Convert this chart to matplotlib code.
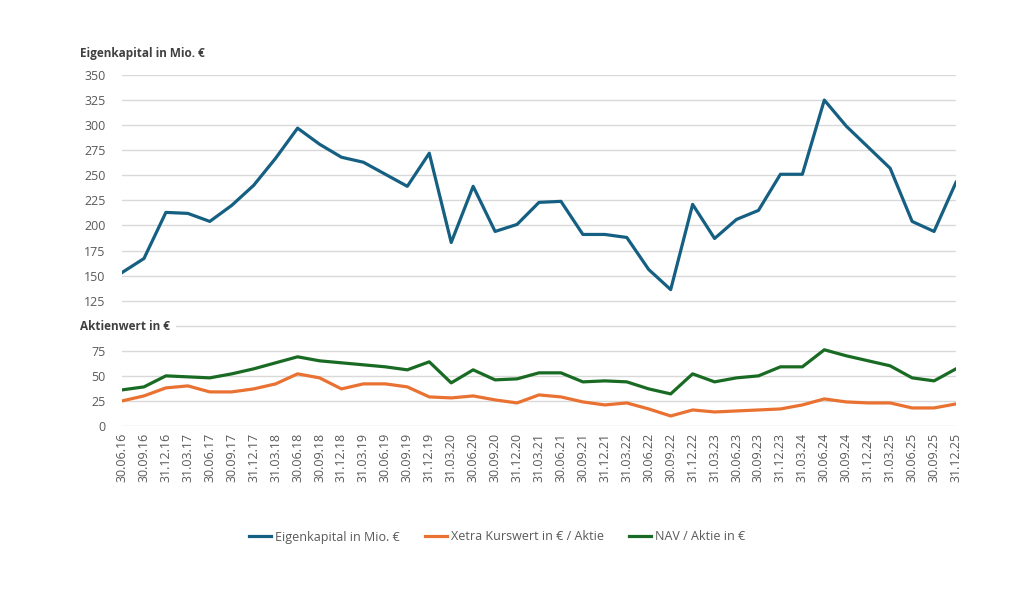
import matplotlib.pyplot as plt
import numpy as np

plt.rcParams['font.family'] = ['Open Sans', 'DejaVu Sans']

dates = ['30.06.16', '30.09.16', '31.12.16', '31.03.17', '30.06.17', '30.09.17',
         '31.12.17', '31.03.18', '30.06.18', '30.09.18', '31.12.18', '31.03.19',
         '30.06.19', '30.09.19', '31.12.19', '31.03.20', '30.06.20', '30.09.20',
         '31.12.20', '31.03.21', '30.06.21', '30.09.21', '31.12.21', '31.03.22',
         '30.06.22', '30.09.22', '31.12.22', '31.03.23', '30.06.23', '30.09.23',
         '31.12.23', '31.03.24', '30.06.24', '30.09.24', '31.12.24', '31.03.25',
         '30.06.25', '30.09.25', '31.12.25']

eigenkapital = [153, 167, 213, 212, 204, 220, 240, 267, 297, 281, 268, 263,
                251, 239, 272, 183, 239, 194, 201, 223, 224, 191, 191, 188,
                156, 136, 221, 187, 206, 215, 251, 251, 325, 299, 278, 257,
                204, 194, 243]

xetra = [25, 30, 38, 40, 34, 34, 37, 42, 52, 48, 37, 42,
         42, 39, 29, 28, 30, 26, 23, 31, 29, 24, 21, 23,
         17, 10, 16, 14, 15, 16, 17, 21, 27, 24, 23, 23,
         18, 18, 22]

nav = [36, 39, 50, 49, 48, 52, 57, 63, 69, 65, 63, 61,
       59, 56, 64, 43, 56, 46, 47, 53, 53, 44, 45, 44,
       37, 32, 52, 44, 48, 50, 59, 59, 76, 70, 65, 60,
       48, 45, 57]

blue = '#156082'
orange = '#E97132'
green = '#196B24'
grey = '#595959'

fig = plt.figure(figsize=(10.30, 5.98), dpi=100)
ax = fig.add_axes([122 / 1030, 1 - 426 / 598, (956 - 122) / 1030, (426 - 75) / 598])

x = np.arange(len(dates))
ax.plot(x, eigenkapital, color=blue, lw=2.3, label='Eigenkapital in Mio. €')
ax.plot(x, xetra, color=orange, lw=2.3, label='Xetra Kurswert in € / Aktie')
ax.plot(x, nav, color=green, lw=2.3, label='NAV / Aktie in €')

ax.set_xlim(0, len(dates) - 1)
ax.set_ylim(0, 350)
ticks = np.arange(0, 351, 25)
ax.set_yticks(ticks)
ax.set_yticklabels(['' if t == 100 else str(t) for t in ticks])
ax.set_xticks(x)
ax.set_xticklabels(dates, rotation=90)
ax.grid(axis='y', color='#d9d9d9', lw=1)
ax.set_axisbelow(True)
for s in ax.spines.values():
    s.set_visible(False)
ax.tick_params(axis='both', length=0, colors=grey, labelsize=9)
ax.tick_params(axis='y', pad=12)
ax.tick_params(axis='x', pad=5)

# section labels
fig.text(80 / 1030, 1 - 53 / 598, 'Eigenkapital in Mio. €', fontsize=8.5, fontweight='bold',
         color='#404040', va='center', ha='left')
fig.text(80 / 1030, 1 - 326 / 598, 'Aktienwert in €', fontsize=8.5, fontweight='bold',
         color='#404040', va='center', ha='left',
         bbox=dict(facecolor='white', edgecolor='none', pad=4))

fig.legend(loc='center', bbox_to_anchor=(497 / 1030, 1 - 537 / 598), ncol=3,
           frameon=False, fontsize=9, labelcolor=grey, handlelength=1.8,
           handletextpad=0.3, columnspacing=2)

fig.savefig('out.png', dpi=100)
